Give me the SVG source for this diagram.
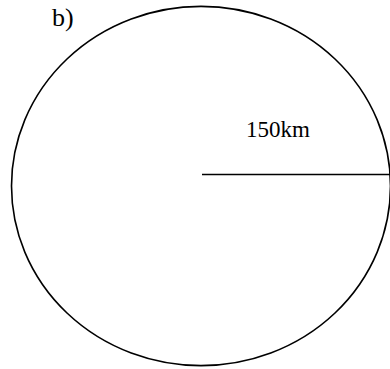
<svg xmlns="http://www.w3.org/2000/svg" width="390" height="369" viewBox="0 0 390 369">
<style>
.shape{fill:none;stroke:#000;stroke-width:1.6}
.lbl{font-family:"Liberation Serif","Times New Roman",serif;fill:#000}
</style>
<rect width="390" height="369" fill="#fff"/>
<g id="circle"><ellipse class="shape" cx="201" cy="186" rx="189.5" ry="179.6"/></g>
<g id="connectors"><line class="shape" x1="202" y1="174.5" x2="391" y2="174.5"/></g>
<g id="label-b"><text class="lbl" x="52" y="26" font-size="26">b)</text></g>
<g id="label-radius"><text class="lbl" x="246" y="137" font-size="23">150km</text></g>
</svg>
